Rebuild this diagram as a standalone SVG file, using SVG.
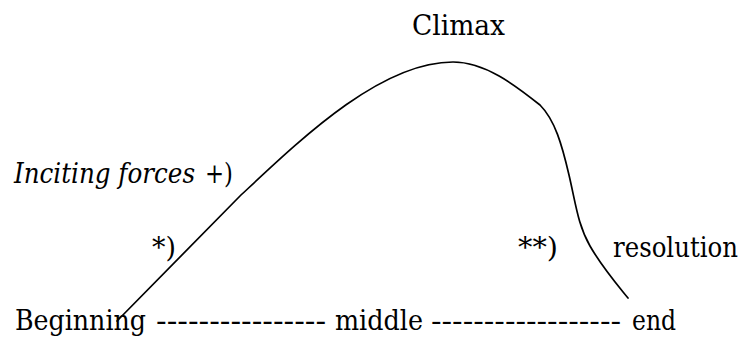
<svg xmlns="http://www.w3.org/2000/svg" width="744" height="338" viewBox="0 0 744 338">
<style>
  text { font-family: "DejaVu Serif Condensed", "DejaVu Serif", "Liberation Serif", serif; font-size: 28px; fill: #000; }
  .it { font-style: italic; }
  .arc { fill: none; stroke: #000; stroke-width: 1.7; stroke-linecap: round; stroke-linejoin: round; }
</style>
<rect width="744" height="338" fill="#fff"/>
<g id="connectors">
  <path class="arc" d="M117,321 L240,196 C300,140 380,62 453,62 C485,62 515,85 540,105 C555,120 562,145 569,175 C576,205 578,225 590,246 C602,267 615,282 628,298"/>
</g>
<g id="climax"><text x="412" y="35" textLength="93" lengthAdjust="spacingAndGlyphs">Climax</text></g>
<g id="inciting"><text y="183"><tspan class="it" x="14" textLength="181" lengthAdjust="spacingAndGlyphs">Inciting forces</tspan><tspan x="205" textLength="28" lengthAdjust="spacingAndGlyphs">+)</tspan></text></g>
<g id="star1"><text x="152" y="257" textLength="24" lengthAdjust="spacingAndGlyphs">*)</text></g>
<g id="star2"><text x="518" y="257" textLength="40" lengthAdjust="spacingAndGlyphs">**)</text></g>
<g id="resolution"><text x="613" y="257" textLength="125" lengthAdjust="spacingAndGlyphs">resolution</text></g>
<g id="timeline"><text y="330"><tspan x="15" textLength="131" lengthAdjust="spacingAndGlyphs">Beginning</tspan><tspan x="156" textLength="170" lengthAdjust="spacingAndGlyphs">----------------</tspan><tspan x="335" textLength="88" lengthAdjust="spacingAndGlyphs">middle</tspan><tspan x="431" textLength="190" lengthAdjust="spacingAndGlyphs">------------------</tspan><tspan x="632" textLength="44" lengthAdjust="spacingAndGlyphs">end</tspan></text></g>
</svg>
